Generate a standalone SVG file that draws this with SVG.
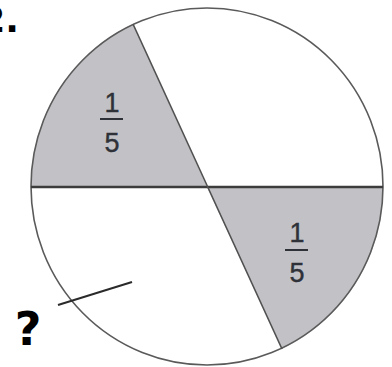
<svg xmlns="http://www.w3.org/2000/svg" width="392" height="367" viewBox="0 0 392 367">
<style>
.sector{fill:#c2c2c6;stroke:none}
.frac{font-family:"Liberation Sans",Arial,sans-serif;font-size:27px;fill:#2e3138;text-anchor:middle;stroke:#2e3138;stroke-width:0.4}
.bar{stroke:#2e3138;stroke-width:2}
.mark{font-family:"DejaVu Sans",sans-serif;font-weight:bold;fill:#000}
</style>
<rect width="392" height="367" fill="#fff"/>
<g id="sector-top-left">
<path class="sector" d="M207,187 L31,187 A176,178 0 0 1 133,24 Z"/>
<text class="frac" x="112" y="112">1</text>
<line class="bar" x1="100" y1="119" x2="123" y2="119"/>
<text class="frac" x="112" y="152">5</text>
</g>
<g id="sector-bottom-right">
<path class="sector" d="M207,187 L383,187 A176,178 0 0 1 282,349 Z"/>
<text class="frac" x="297" y="242">1</text>
<line class="bar" x1="285" y1="250" x2="308" y2="250"/>
<text class="frac" x="297" y="282">5</text>
</g>
<g id="circle">
<ellipse cx="207" cy="186.5" rx="176" ry="178.5" fill="none" stroke="#5a5a5a" stroke-width="1.6"/>
</g>
<g id="connectors">
<line x1="31" y1="187" x2="383" y2="187" stroke="#3c3c3c" stroke-width="2.5"/>
<line x1="133" y1="24" x2="282" y2="349" stroke="#505050" stroke-width="1.6"/>
<line x1="58" y1="305" x2="132" y2="282" stroke="#2a2a2a" stroke-width="2"/>
</g>
<g id="labels">
<text class="mark" x="28" y="345" font-size="46" text-anchor="middle">?</text>
<text class="mark" x="19" y="32" font-size="36" text-anchor="end">2.</text>
</g>
</svg>
